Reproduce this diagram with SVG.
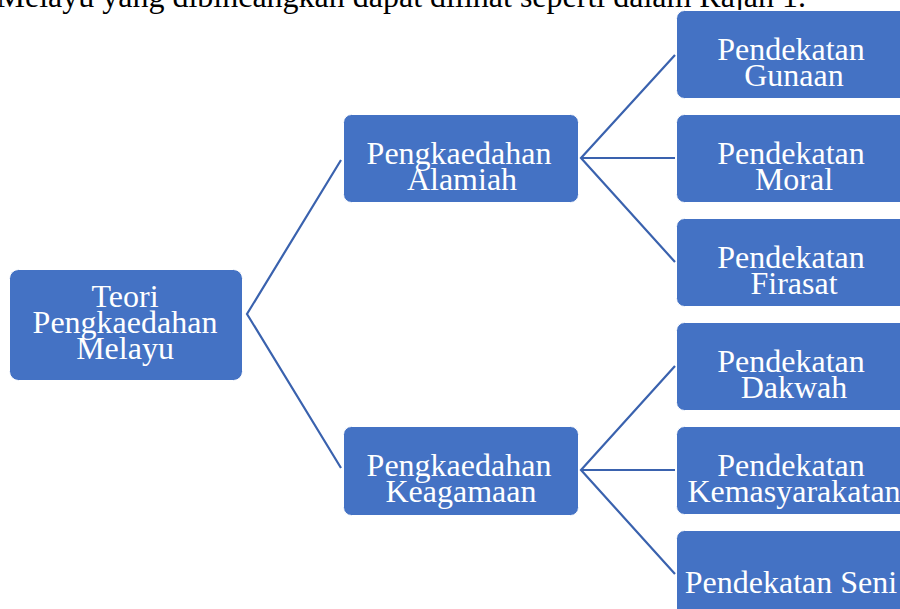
<svg xmlns="http://www.w3.org/2000/svg" width="900" height="609" viewBox="0 0 900 609">
<style>
.box{fill:#4472C4;stroke:#ffffff;stroke-width:1}
.t{font-family:"Liberation Serif","Times New Roman",serif;font-size:32px;fill:#ffffff;text-anchor:middle}
.c{fill:none;stroke:#3A62AE;stroke-width:2.2}
.cap{font-family:"Liberation Serif","Times New Roman",serif;font-size:32px;fill:#000000}
</style>
<rect width="900" height="609" fill="#ffffff"/>
<text class="cap" x="806" y="7" text-anchor="end">Melayu yang dibincangkan dapat dilihat seperti dalam Rajah 1.</text>
<g id="connectors">
<polyline class="c" points="341,160 247,314 341,468"/>
<polyline class="c" points="675,55 581,158 675,262"/>
<line class="c" x1="581" y1="158" x2="675" y2="158"/>
<polyline class="c" points="675,366 581,470 675,574"/>
<line class="c" x1="581" y1="470" x2="675" y2="470"/>
</g>
<g id="root">
<rect class="box" x="9.5" y="269.5" width="233" height="111" rx="9"/>
<text class="t" x="125" y="307">Teori</text>
<text class="t" x="125" y="333">Pengkaedahan</text>
<text class="t" x="125" y="359">Melayu</text>
</g>
<g id="alamiah">
<rect class="box" x="343.5" y="114.5" width="235" height="88" rx="8"/>
<text class="t" x="459" y="164">Pengkaedahan</text>
<text class="t" x="462" y="190">Alamiah</text>
</g>
<g id="keagamaan">
<rect class="box" x="343.5" y="426.5" width="235" height="89" rx="8"/>
<text class="t" x="459" y="476">Pengkaedahan</text>
<text class="t" x="461" y="502">Keagamaan</text>
</g>
<g id="gunaan">
<rect class="box" x="676.5" y="10.5" width="240" height="88" rx="8"/>
<text class="t" x="791" y="60">Pendekatan</text>
<text class="t" x="794" y="86">Gunaan</text>
</g>
<g id="moral">
<rect class="box" x="676.5" y="114.5" width="240" height="88" rx="8"/>
<text class="t" x="791" y="164">Pendekatan</text>
<text class="t" x="794" y="190">Moral</text>
</g>
<g id="firasat">
<rect class="box" x="676.5" y="218.5" width="240" height="88" rx="8"/>
<text class="t" x="791" y="268">Pendekatan</text>
<text class="t" x="794" y="294">Firasat</text>
</g>
<g id="dakwah">
<rect class="box" x="676.5" y="322.5" width="240" height="88" rx="8"/>
<text class="t" x="791" y="372">Pendekatan</text>
<text class="t" x="794" y="398">Dakwah</text>
</g>
<g id="kemasyarakatan">
<rect class="box" x="676.5" y="426.5" width="240" height="88" rx="8"/>
<text class="t" x="791" y="476">Pendekatan</text>
<text class="t" x="794" y="502">Kemasyarakatan</text>
</g>
<g id="seni">
<rect class="box" x="676.5" y="530.5" width="240" height="88" rx="8"/>
<text class="t" x="791" y="593">Pendekatan Seni</text>
</g>
</svg>
